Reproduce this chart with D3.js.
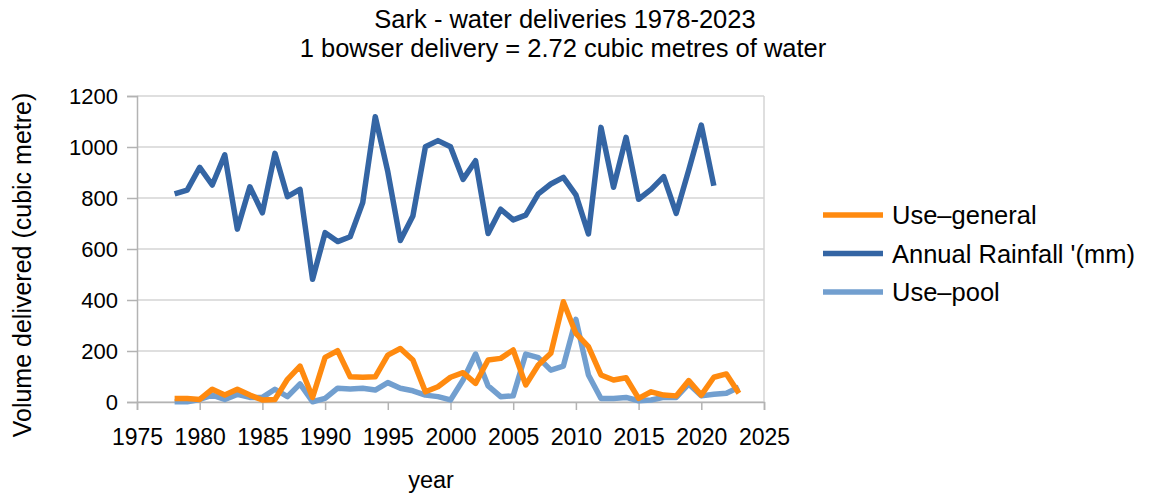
<!DOCTYPE html>
<html>
<head>
<meta charset="utf-8">
<script src="https://cdn.jsdelivr.net/npm/d3@7/dist/d3.min.js"></script>
<style>
  html, body { margin: 0; padding: 0; background: #fff; }
  svg { display: block; font-family: "Liberation Sans", Arial, sans-serif; }
</style>
</head>
<body>
<svg id="chart" width="1151" height="495"></svg>
<script>
// Sark water deliveries, cubic metres per year, and annual rainfall (mm)
const years = d3.range(1978, 2024);
const useGeneral = [
  14, 14, 10, 50, 27, 50, 27, 8, 10, 89,
  141, 18, 175, 201, 99, 97, 99, 184, 210, 165,
  40, 60, 97, 115, 73, 165, 171, 204, 67, 145,
  191, 393, 269, 217, 106, 86, 95, 14, 40, 27,
  24, 84, 27, 97, 110, 34
];
const rainfall = [
  816, 831, 920, 851, 969, 678, 844, 742, 975, 805,
  834, 481, 664, 629, 648, 782, 1119, 903, 633, 729,
  1001, 1025, 1001, 873, 946, 661, 756, 714, 733, 816,
  855, 881, 812, 659, 1077, 842, 1038, 795, 834, 884,
  740, 910, 1086, 848, null, null
];
const usePool = [
  1, 1, 10, 27, 10, 30, 18, 18, 50, 21,
  71, 1, 14, 54, 51, 54, 47, 76, 54, 44,
  27, 21, 8, 86, 188, 63, 21, 24, 188, 174,
  125, 141, 324, 106, 14, 14, 18, 5, 8, 18,
  18, 71, 24, 30, 34, 58
];
const yTicks = [0, 200, 400, 600, 800, 1000, 1200];
const xTicks = [1975, 1980, 1985, 1990, 1995, 2000, 2005, 2010, 2015, 2020, 2025];

const series = [
  { name: "Use\u2013general", values: useGeneral, color: "#ff8a0f" },
  { name: "Annual Rainfall '(mm)", values: rainfall, color: "#3465a4" },
  { name: "Use\u2013pool", values: usePool, color: "#729fcf" }
];

const svg = d3.select("#chart");
const plot = { left: 137, right: 764, top: 96, bottom: 402 };

const x = d3.scaleLinear().domain([1975, 2025]).range([plot.left, plot.right]);
const y = d3.scaleLinear().domain([0, 1200]).range([plot.bottom, plot.top]);

// Titles
svg.append("text").attr("x", 565).attr("y", 28).attr("text-anchor", "middle")
  .attr("font-size", 25.5).attr("fill", "#000").text("Sark - water deliveries 1978-2023");
svg.append("text").attr("x", 563).attr("y", 57).attr("text-anchor", "middle")
  .attr("font-size", 25.5).attr("fill", "#000").text("1 bowser delivery = 2.72 cubic metres of water");

// Horizontal gridlines
svg.append("g").selectAll("line").data(yTicks).join("line")
  .attr("x1", plot.left).attr("x2", plot.right)
  .attr("y1", d => y(d)).attr("y2", d => y(d))
  .attr("stroke", "#d4d4d4").attr("stroke-width", 1.5);

// Right border of plot area
svg.append("line").attr("x1", plot.right).attr("x2", plot.right)
  .attr("y1", plot.top).attr("y2", plot.bottom)
  .attr("stroke", "#d4d4d4").attr("stroke-width", 1.5);

// Y axis
const yAxis = svg.append("g").attr("transform", `translate(${plot.left},0)`)
  .call(d3.axisLeft(y).tickValues(yTicks).tickSize(10).tickPadding(9).tickFormat(d3.format("d")));
yAxis.select(".domain").attr("stroke", "#b3b3b3").attr("stroke-width", 1.5);
yAxis.selectAll(".tick line").attr("stroke", "#b3b3b3").attr("stroke-width", 1.5);
yAxis.selectAll(".tick text").attr("font-size", 22).attr("fill", "#000")
  .attr("font-family", "Liberation Sans, Arial, sans-serif");

// X axis
const xAxis = svg.append("g").attr("transform", `translate(0,${plot.bottom})`)
  .call(d3.axisBottom(x).tickValues(xTicks).tickSize(8).tickPadding(19).tickFormat(d3.format("d")));
xAxis.select(".domain").attr("stroke", "#b3b3b3").attr("stroke-width", 1.5);
xAxis.selectAll(".tick line").attr("stroke", "#b3b3b3").attr("stroke-width", 1.5);
xAxis.selectAll(".tick text").attr("font-size", 23).attr("fill", "#000")
  .attr("font-family", "Liberation Sans, Arial, sans-serif");

// Axis titles
svg.append("text").attr("transform", "translate(31,265) rotate(-90)")
  .attr("text-anchor", "middle").attr("font-size", 25).attr("fill", "#000")
  .text("Volume delivered (cubic metre)");
svg.append("text").attr("x", 431).attr("y", 488).attr("text-anchor", "middle")
  .attr("font-size", 23.5).attr("fill", "#000").text("year");

// Series lines
const line = d3.line()
  .defined(d => d[1] != null)
  .x(d => x(d[0])).y(d => y(d[1]));

const drawOrder = [series[1], series[2], series[0]];
svg.append("g").selectAll("path").data(drawOrder).join("path")
  .attr("d", s => line(years.map((yr, i) => [yr, s.values[i]])))
  .attr("fill", "none").attr("stroke", s => s.color)
  .attr("stroke-width", 5.5).attr("stroke-linejoin", "round").attr("stroke-linecap", "butt");

// Legend
const legend = svg.append("g").attr("transform", "translate(823,215)");
const item = legend.selectAll("g").data(series).join("g")
  .attr("transform", (d, i) => `translate(0,${i * 38.5})`);
item.append("line").attr("x1", 0).attr("x2", 60).attr("y1", 0).attr("y2", 0)
  .attr("stroke", d => d.color).attr("stroke-width", 5.5);
item.append("text").attr("x", 69).attr("y", 9).attr("font-size", 25.5).attr("fill", "#000")
  .text(d => d.name);
</script>
</body>
</html>
